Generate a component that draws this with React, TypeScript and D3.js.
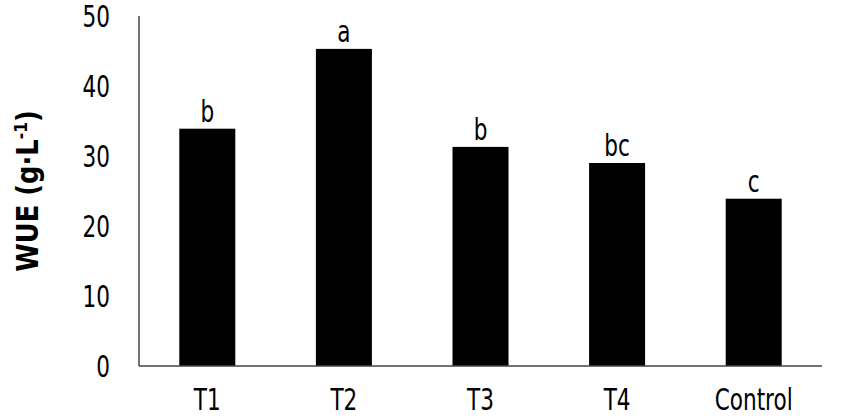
import * as d3 from 'd3'

const categories = ['T1', 'T2', 'T3', 'T4', 'Control']
const wue = [33.9, 45.3, 31.3, 29.0, 23.9]
const letters = ['b', 'a', 'b', 'bc', 'c']
const yTicks = [0, 10, 20, 30, 40, 50]

const width = 841
const height = 418
const marginLeft = 139
const marginRight = 19
const marginTop = 16
const marginBottom = 52
const font = '"DejaVu Sans", sans-serif'
const squeeze = 0.72

// condensed-looking label: plain DejaVu squeezed horizontally
function Label(props: {
  x: number
  y: number
  anchor: string
  size: number
  children: any
}) {
  return (
    <text
      transform={`translate(${props.x},${props.y}) scale(${squeeze},1)`}
      textAnchor={props.anchor}
      fontFamily={font}
      fontSize={props.size}
    >
      {props.children}
    </text>
  )
}

export default function App() {
  const x = d3
    .scaleBand<string>()
    .domain(categories)
    .range([marginLeft, width - marginRight])
    .paddingInner(0.59)
    .paddingOuter(0.295)
  const y = d3.scaleLinear([0, 50], [height - marginBottom, marginTop])
  const y0 = y(0)

  return (
    <svg
      width={width}
      height={height}
      style={{ position: 'absolute', left: 0, top: 0, background: 'white' }}
    >
      {categories.map((c, i) => {
        const cx = (x(c) || 0) + x.bandwidth() / 2
        return (
          <g key={c}>
            <rect
              x={x(c)}
              y={y(wue[i])}
              width={x.bandwidth()}
              height={y0 - y(wue[i])}
              fill="black"
            />
            <Label x={cx} y={y(wue[i]) - 7} anchor="middle" size={30}>
              {letters[i]}
            </Label>
            <Label x={cx} y={410} anchor="middle" size={30}>
              {c}
            </Label>
          </g>
        )
      })}
      <line
        x1={marginLeft}
        x2={marginLeft}
        y1={y(50)}
        y2={y0}
        stroke="#444"
        strokeWidth={1.5}
      />
      <line
        x1={marginLeft}
        x2={width - marginRight}
        y1={y0}
        y2={y0}
        stroke="#444"
        strokeWidth={1.5}
      />
      {yTicks.map((t) => (
        <Label key={t} x={110} y={y(t) + 11} anchor="end" size={30}>
          {t}
        </Label>
      ))}
      <text
        transform={`translate(38, ${y(25)}) rotate(-90) scale(0.86,1)`}
        textAnchor="middle"
        fontFamily={font}
        fontSize={30}
        fontWeight="bold"
      >
        WUE (g·L
        <tspan dy={-11} fontSize={18}>
          -1
        </tspan>
        <tspan dy={11}>)</tspan>
      </text>
    </svg>
  )
}
